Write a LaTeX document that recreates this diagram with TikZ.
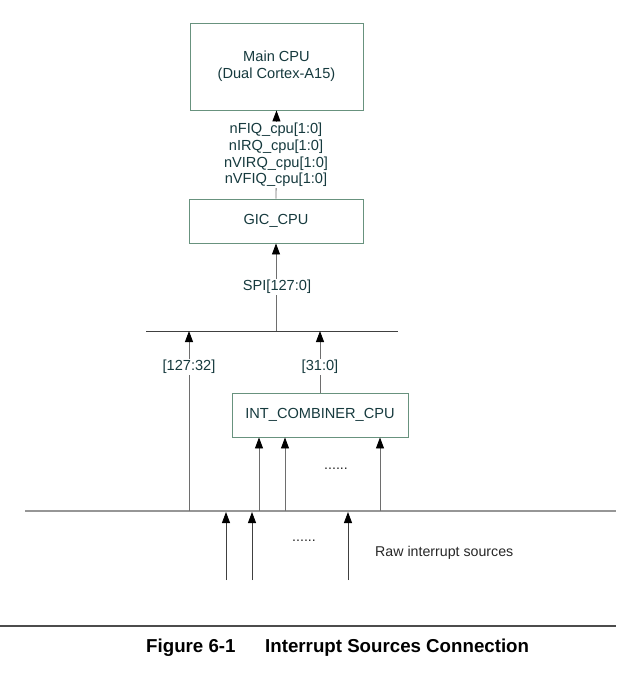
\documentclass[tikz,border=0pt]{standalone}
\usepackage{fontspec}
\setmainfont{Liberation Sans}
\usetikzlibrary{arrows.meta}
\definecolor{boxline}{RGB}{104,146,126}
\definecolor{boxtext}{RGB}{22,58,62}
\definecolor{wire}{RGB}{110,110,110}
\definecolor{busgray}{RGB}{150,150,150}
\begin{document}
\begin{tikzpicture}[x=1pt,y=-1pt,
  block/.style={draw=boxline,line width=0.9pt,fill=white,text=boxtext,
    font=\fontsize{14.6}{17}\selectfont,align=center,inner sep=0pt},
  sig/.style={fill=white,text=boxtext,font=\fontsize{14.6}{16.7}\selectfont,
    align=center,inner sep=1pt},
  plain/.style={text=black!85,font=\fontsize{14.2}{17}\selectfont,inner sep=0pt},
  wirearrow/.style={draw=wire,line width=0.9pt,
    -{Triangle[length=11pt,width=8pt,color=black]}},
  srcarrow/.style={draw=black!75,line width=0.8pt,
    -{Triangle[length=11pt,width=8pt,color=black]}},
  plainwire/.style={draw=wire,line width=0.9pt}]
\useasboundingbox (0,0) rectangle (616,677);

% processor blocks
\node[block,minimum width=173pt,minimum height=87pt] (cpu) at (276.5,66.5)
  {Main CPU\\(Dual Cortex-A15)};
\node[block,minimum width=174pt,minimum height=44pt] (gic) at (276,221) {GIC\_CPU};
\node[block,minimum width=176pt,minimum height=44pt] (comb) at (320,415) {INT\_COMBINER\_CPU};

% buses
\coordinate (b1l) at (146,331);
\coordinate (b1r) at (398,331);
\coordinate (b2l) at (25,511);
\coordinate (b2r) at (616,511);
\draw[draw=black!75,line width=0.9pt] (b1l) -- (b1r);
\draw[draw=busgray,line width=1.8pt] (b2l) -- (b2r);

% taps on the buses
\coordinate (spi) at (276,331);
\coordinate (hiup) at (189,331);
\coordinate (hidn) at (189,511);
\coordinate (loup) at (320,331);
\coordinate (c1) at (259,511);
\coordinate (c2) at (285,511);
\coordinate (c3) at (380,511);
\coordinate (r1) at (226,512);
\coordinate (r2) at (252,512);
\coordinate (r3) at (348,512);
\coordinate (s1) at (226,580);
\coordinate (s2) at (252,580);
\coordinate (s3) at (348,580);

% GIC to CPU
\draw[wirearrow] (gic.north) -- (cpu.south);
\node[sig] (irqs) at (276,155)
  {nFIQ\_cpu[1:0]\\nIRQ\_cpu[1:0]\\nVIRQ\_cpu[1:0]\\nVFIQ\_cpu[1:0]};

% bus to GIC
\draw[wirearrow] (spi) -- (gic.south);
\node[sig] (spilbl) at (277,287) {SPI[127:0]};

% upper and lower halves of SPI
\draw[wirearrow] (hidn) -- (hiup);
\node[sig] (hilbl) at (189,367) {[127:32]};
\draw[wirearrow] (comb.north) -- (loup);
\node[sig] (lolbl) at (320,367) {[31:0]};

% combiner inputs
\draw[wirearrow] (c1) -- (comb.south -| c1);
\draw[wirearrow] (c2) -- (comb.south -| c2);
\draw[wirearrow] (c3) -- (comb.south -| c3);
\node[plain] (dots1) at (336,469) {......};

% raw sources
\draw[srcarrow] (s1) -- (r1);
\draw[srcarrow] (s2) -- (r2);
\draw[srcarrow] (s3) -- (r3);
\node[plain] (dots2) at (304,541) {......};
\node[plain,anchor=west] (raw) at (375,553) {Raw interrupt sources};

% caption
\coordinate (rulel) at (0,626);
\coordinate (ruler) at (616,626);
\draw[draw=black!70,line width=1.3pt] (rulel) -- (ruler);
\node[font=\fontsize{18.7}{20}\bfseries\selectfont,anchor=west,inner sep=0pt] (fig) at (146,648) {Figure 6-1};
\node[font=\fontsize{18.7}{20}\bfseries\selectfont,anchor=west,inner sep=0pt] (cap) at (265,648) {Interrupt Sources Connection};
\end{tikzpicture}
\end{document}
